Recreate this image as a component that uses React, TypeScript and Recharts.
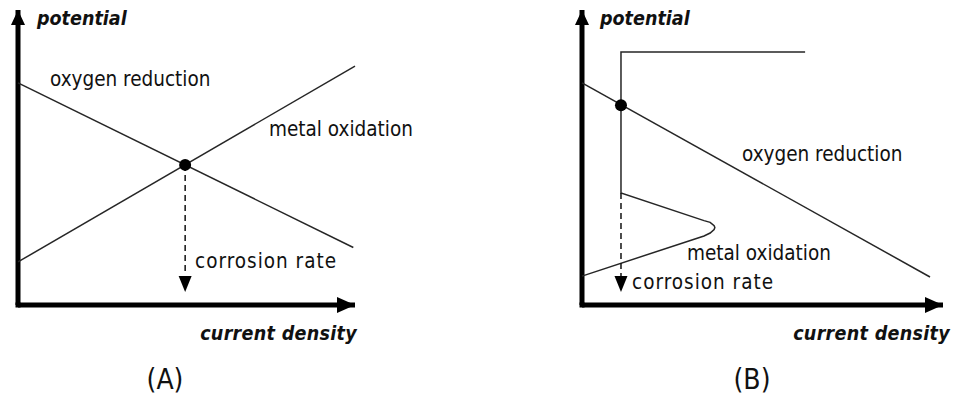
import { LineChart, Line, XAxis, YAxis, ReferenceDot, ReferenceLine } from "recharts";

// shared axis range (arbitrary units, 0..100 on both axes)
const AXIS_DOMAIN = [0, 100];

// (A) two straight polarization lines
const oxygenA = [
  { x: 0, y: 75.3 },
  { x: 99.5, y: 19.5 },
];
const metalA = [
  { x: 0, y: 14.6 },
  { x: 100, y: 81.0 },
];
const corrosionPointA = { x: 49.6, y: 47.5 };
const rateLineA = [
  { x: 49.6, y: 47.5 },
  { x: 49.6, y: 10.2 },
];
const rateTipA = { x: 49.6, y: 4.4 };

// (B) passivating metal
const oxygenB = [
  { x: 0, y: 75.3 },
  { x: 96.4, y: 9.5 },
];
const metalB = [
  { x: 0, y: 9.8 },
  { x: 33.8, y: 23.4 },
  { x: 35.5, y: 24.4 },
  { x: 36.6, y: 25.6 },
  { x: 36.8, y: 26.3 },
  { x: 36.6, y: 26.9 },
  { x: 35.5, y: 28.0 },
  { x: 33.8, y: 28.6 },
  { x: 10.8, y: 38.0 },
  { x: 10.8, y: 85.8 },
  { x: 61.8, y: 85.8 },
];
const corrosionPointB = { x: 10.8, y: 67.7 };
const rateLineB = [
  { x: 10.8, y: 38.0 },
  { x: 10.8, y: 9.5 },
];
const rateTipB = { x: 10.8, y: 4.4 };

const FONT = '"DejaVu Sans Condensed", "DejaVu Sans", sans-serif';
const LINE = "#262626";

const ArrowUp = (props: any) => {
  const { cx, cy } = props;
  return <path d={`M${cx},${cy} L${cx - 7},${cy + 15} L${cx + 7},${cy + 15} Z`} fill="#000" />;
};
const ArrowRight = (props: any) => {
  const { cx, cy } = props;
  return <path d={`M${cx},${cy} L${cx - 18},${cy - 8} L${cx - 18},${cy + 8} Z`} fill="#000" />;
};
const ArrowDown = (props: any) => {
  const { cx, cy } = props;
  return <path d={`M${cx},${cy} L${cx - 6.5},${cy - 16} L${cx + 6.5},${cy - 16} Z`} fill="#000" />;
};
const Corner = (props: any) => {
  const { cx, cy } = props;
  return <rect x={cx - 2.5} y={cy - 2.5} width={5} height={5} fill="#000" />;
};

function Panel({ width, margin, oxygen, metal, point, rateLine, rateTip }: any) {
  return (
    <LineChart width={width} height={398} margin={margin}>
      <XAxis type="number" dataKey="x" domain={AXIS_DOMAIN} hide />
      <YAxis type="number" dataKey="y" domain={AXIS_DOMAIN} hide />
      <ReferenceLine y={0} stroke="#000" strokeWidth={5} ifOverflow="visible" />
      <ReferenceLine x={0} stroke="#000" strokeWidth={5} ifOverflow="visible" />
      <Line
        data={oxygen}
        dataKey="y"
        type="linear"
        stroke={LINE}
        strokeWidth={1.5}
        dot={false}
        isAnimationActive={false}
      />
      <Line
        data={metal}
        dataKey="y"
        type="linear"
        stroke={LINE}
        strokeWidth={1.5}
        dot={false}
        isAnimationActive={false}
      />
      <Line
        data={rateLine}
        dataKey="y"
        type="linear"
        stroke="#111"
        strokeWidth={1.5}
        strokeDasharray="6 4"
        dot={false}
        isAnimationActive={false}
      />
      <ReferenceDot x={point.x} y={point.y} r={6} fill="#000" stroke="none" />
      <ReferenceDot x={rateTip.x} y={rateTip.y} shape={ArrowDown} />
      <ReferenceDot x={0} y={100} shape={ArrowUp} />
      <ReferenceDot x={100} y={0} shape={ArrowRight} />
      <ReferenceDot x={0} y={0} shape={Corner} />
    </LineChart>
  );
}

export default function App() {
  const label = { fontFamily: FONT, fontStretch: "condensed", fill: "#111" } as any;
  const axisLabel = { ...label, fontStyle: "italic", fontWeight: "bold", fontSize: 19.5 };
  const curveLabel = { ...label, fontSize: 20.5 };
  const rateLabel = { ...label, fontSize: 20.5, letterSpacing: 1 };
  const panelLabel = { ...label, fontSize: 28 };
  return (
    <div style={{ position: "absolute", left: 0, top: 0, width: 953, height: 398, background: "#fff" }}>
      <div style={{ position: "absolute", left: 0, top: 0 }}>
        <Panel
          width={380}
          margin={{ top: 10, right: 25, bottom: 93, left: 18 }}
          oxygen={oxygenA}
          metal={metalA}
          point={corrosionPointA}
          rateLine={rateLineA}
          rateTip={rateTipA}
        />
      </div>
      <div style={{ position: "absolute", left: 560, top: 0 }}>
        <Panel
          width={393}
          margin={{ top: 10, right: 10, bottom: 93, left: 22 }}
          oxygen={oxygenB}
          metal={metalB}
          point={corrosionPointB}
          rateLine={rateLineB}
          rateTip={rateTipB}
        />
      </div>
      <svg
        width={953}
        height={398}
        style={{ position: "absolute", left: 0, top: 0, pointerEvents: "none" }}
      >
        {/* (A) */}
        <text x={37} y={25} style={axisLabel}>potential</text>
        <text x={357} y={340} textAnchor="end" style={{ ...axisLabel, letterSpacing: 0.3 }}>current density</text>
        <text x={50} y={86} style={curveLabel}>oxygen reduction</text>
        <text x={269} y={136} style={curveLabel}>metal oxidation</text>
        <text x={195} y={268} style={rateLabel}>corrosion rate</text>
        <text x={165} y={389} textAnchor="middle" style={panelLabel}>(A)</text>
        {/* (B) */}
        <text x={600} y={25} style={axisLabel}>potential</text>
        <text x={950} y={340} textAnchor="end" style={{ ...axisLabel, letterSpacing: 0.3 }}>current density</text>
        <text x={742} y={161} style={curveLabel}>oxygen reduction</text>
        <text x={687} y={260} style={curveLabel}>metal oxidation</text>
        <text x={632} y={289} style={rateLabel}>corrosion rate</text>
        <text x={752} y={389} textAnchor="middle" style={panelLabel}>(B)</text>
      </svg>
    </div>
  );
}
